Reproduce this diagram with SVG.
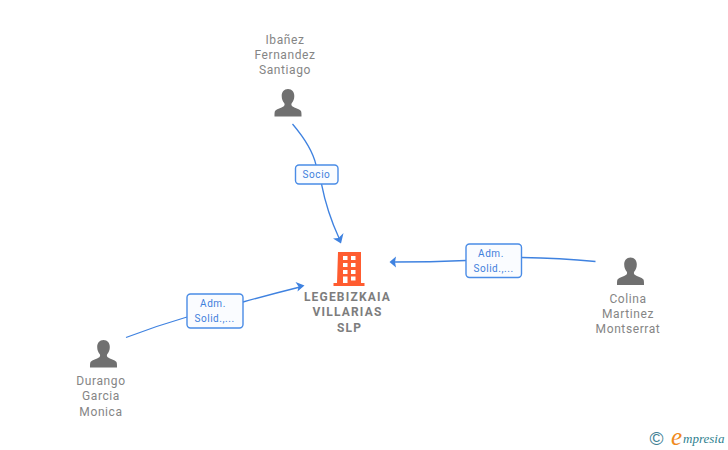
<svg xmlns="http://www.w3.org/2000/svg" width="728" height="450" viewBox="0 0 728 450">
<style>
.conn{fill:none;stroke:#3f82e0;stroke-width:1.3}
.arrow{fill:#3f82e0;stroke:none}
.lbl rect{fill:#fafcff;stroke:#4a8ce6;stroke-width:1.4}
.lbl text{font:10px Roboto,"Liberation Sans",sans-serif;fill:#3f7fdc;text-anchor:middle;letter-spacing:.55px}
.name{font:12px Roboto,"Liberation Sans",sans-serif;fill:#858585;text-anchor:middle;letter-spacing:.6px}
.main{font:bold 12px Roboto,"Liberation Sans",sans-serif;fill:#7d7d7d;text-anchor:middle;letter-spacing:1.2px}
.p{fill:#707070}
.b{fill:#ff5c30}
.w{fill:#fff}
</style>
<defs>
<path id="person" d="M0-27.500c-4 0-6.300 3-6.300 7 0 3 1 5.500 2.600 7.300 .5 .8 .4 2.200-.5 3-2.500 1.700-7 2.600-8.600 4.500-.8 1.100-.7 3.700-.7 5.700h27c0-2 .1-4.600-.7-5.700-1.600-1.900-6.100-2.800-8.600-4.500-.9-.8-1-2.200-.5-3 1.600-1.800 2.600-4.300 2.600-7.300 0-4-2.300-7-6.300-7z"/>
</defs>
<g id="connectors">
<path class="conn" d="M292.500 124Q312 147 316 165"/>
<path class="conn" d="M321.500 184Q327 212 339 238"/>
<path class="arrow" d="M341 243.500L333 238.500 338.500 238 343.500 233z"/>
<path class="conn" d="M595.500 261.500Q560 258 522 257.500"/>
<path class="conn" d="M466 260.500Q430 262 394 262"/>
<path class="arrow" d="M389.500 262L396 256.500 395 262 396 267.500z"/>
<path class="conn" d="M126 337.500Q156 326 187 317"/>
<path class="conn" d="M243 302Q272 294 300 287"/>
<path class="arrow" d="M304.500 285.500L297.500 291.500 298.500 286.500 295.500 282z"/>
</g>
<g id="node-ibanez">
<text class="name" x="285" y="44">Ibañez</text>
<text class="name" x="285" y="59">Fernandez</text>
<text class="name" x="285" y="74">Santiago</text>
<use href="#person" class="p" x="288" y="116.500"/>
</g>
<g id="node-legebizkaia">
<path class="b" d="M338 252h23v31h3.500v3h-31v-3h3.500z"/>
<g class="w">
<rect x="343" y="256" width="4.500" height="4"/><rect x="351" y="256" width="4.500" height="4"/>
<rect x="343" y="263" width="4.500" height="4"/><rect x="351" y="263" width="4.500" height="4"/>
<rect x="343" y="270" width="4.500" height="4"/><rect x="351" y="270" width="4.500" height="4"/>
<rect x="343" y="276.500" width="4.500" height="6.500"/><rect x="351" y="276.500" width="4.500" height="4"/>
</g>
<text class="main" x="347.500" y="301">LEGEBIZKAIA</text>
<text class="main" x="347.500" y="316">VILLARIAS</text>
<text class="main" x="349.500" y="332">SLP</text>
</g>
<g id="node-colina">
<use href="#person" class="p" x="630.500" y="285"/>
<text class="name" x="628" y="303">Colina</text>
<text class="name" x="628" y="318">Martinez</text>
<text class="name" x="628" y="333">Montserrat</text>
</g>
<g id="node-durango">
<use href="#person" class="p" x="103.500" y="367.500"/>
<text class="name" x="101" y="385">Durango</text>
<text class="name" x="101" y="400">Garcia</text>
<text class="name" x="101" y="416">Monica</text>
</g>
<g id="label-socio" class="lbl">
<rect x="295.500" y="165" width="42.500" height="19" rx="3.500"/>
<text x="316.500" y="178">Socio</text>
</g>
<g id="label-colina" class="lbl">
<rect x="466" y="244" width="55.500" height="33.500" rx="3.500"/>
<text x="491" y="257">Adm.</text>
<text x="493.500" y="272">Solid.,...</text>
</g>
<g id="label-durango" class="lbl">
<rect x="187" y="294" width="56" height="34" rx="3.500"/>
<text x="213" y="307">Adm.</text>
<text x="214.500" y="322">Solid.,...</text>
</g>
<g id="logo">
<text x="649.500" y="445" font-family="Liberation Sans, sans-serif" font-size="19" fill="#3f7f94">©</text>
<text x="671" y="445" font-family="Liberation Serif, serif" font-style="italic" font-size="25" fill="#f08a1d">e</text>
<text x="683" y="443" font-family="Liberation Serif, serif" font-style="italic" font-size="13" fill="#2f7f8f">mpresia</text>
</g>
</svg>
